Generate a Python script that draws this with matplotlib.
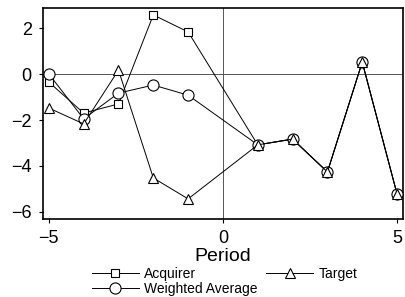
import matplotlib
matplotlib.use("Agg")
import matplotlib.pyplot as plt

periods = [-5, -4, -3, -2, -1, 1, 2, 3, 4, 5]
acquirer = [-0.35, -1.7, -1.3, 2.57, 1.83, -3.08, -2.83, -4.26, 0.52, -5.22]
target = [-1.48, -2.17, 0.17, -4.52, -5.43, -3.08, -2.83, -4.26, 0.52, -5.22]
weighted = [0.0, -1.95, -0.83, -0.48, -0.92, -3.08, -2.83, -4.26, 0.52, -5.22]


def main():
    plt.rcParams['font.family'] = ['Liberation Sans', 'DejaVu Sans']
    fig = plt.figure(figsize=(4.05, 2.97), dpi=100)
    ax = fig.add_axes([0.106, 0.263, 0.889, 0.71])

    ax.axhline(0, color='#555555', lw=0.7, zorder=1)
    ax.axvline(0, color='#555555', lw=0.7, zorder=1)

    style = dict(color='black', lw=0.7, mfc='white', mec='black', mew=0.8, zorder=3)
    ax.plot(periods, acquirer, marker='s', ms=6, label='Acquirer', **style)
    ax.plot(periods, weighted, marker='o', ms=8, label='Weighted Average', **style)
    ax.plot(periods, target, marker='^', ms=7, label='Target', **style)

    ax.set_xlim(-5.17, 5.17)
    ax.set_ylim(-6.3, 2.87)
    ax.set_xticks([-5, 0, 5])
    ax.set_yticks([-6, -4, -2, 0, 2])
    ax.tick_params(labelsize=13, length=3, width=0.8, pad=5)
    ax.set_xlabel("Period", fontsize=14, labelpad=1)
    for s in ax.spines.values():
        s.set_linewidth(1.2)

    fig.legend(loc='lower center', bbox_to_anchor=(0.555, -0.028), ncol=2,
               frameon=False, fontsize=10, handlelength=3.4,
               labelspacing=0.05, columnspacing=0.6, handletextpad=0.4,
               borderpad=0.2)

    fig.savefig("out.png", dpi=100)


if __name__ == '__main__':
    main()
